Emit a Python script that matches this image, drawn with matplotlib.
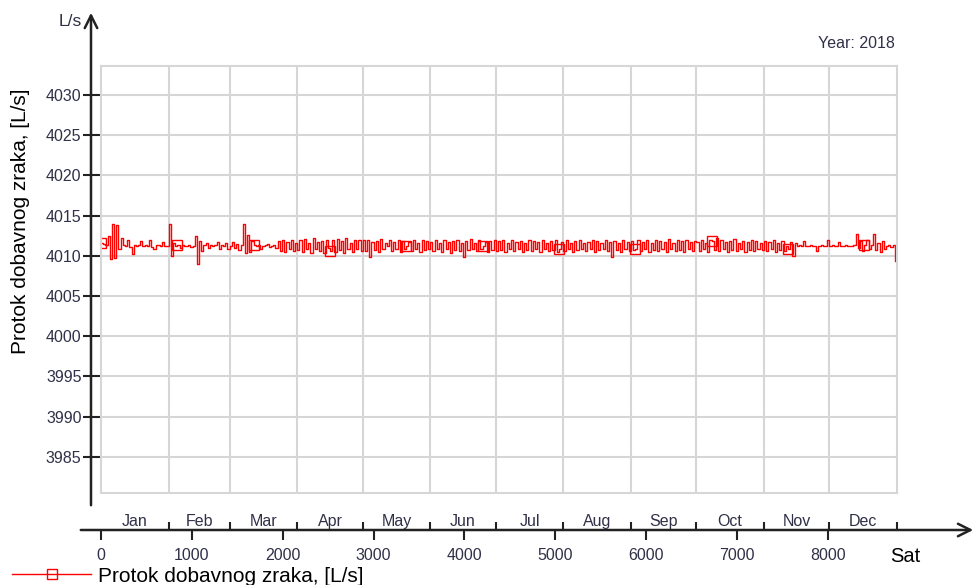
import numpy as np
import matplotlib as mpl
from matplotlib import pyplot as plt
from matplotlib.transforms import blended_transform_factory

plt.rcParams['font.family'] = ['Liberation Sans', 'DejaVu Sans']

# daily values of the supply air flow [L/s]
jan = [4011.6, 4011.5, 4011.3, 4012.4, 4009.6, 4014.0, 4009.7, 4013.8, 4010.9, 4012.2, 4011.3,
       4011.2, 4012.0, 4011.1, 4010.2, 4011.3, 4011.2, 4011.3, 4011.8, 4011.2, 4011.3, 4011.2,
       4011.9, 4011.1, 4010.9, 4011.4, 4011.3, 4011.2, 4011.7, 4011.2, 4011.2]
feb = [4013.9, 4010.0, 4011.6, 4011.2, 4011.3, 4011.0, 4011.4, 4011.2, 4011.2, 4011.3, 4011.1,
       4011.2, 4012.5, 4009.0, 4011.8, 4010.6, 4011.3, 4011.6, 4011.0, 4011.4, 4011.2, 4011.3,
       4011.7, 4010.9, 4011.4, 4011.2, 4011.6, 4010.8]
mar = [4011.2, 4011.7, 4011.0, 4011.5, 4010.7, 4011.3, 4014.0, 4010.3, 4012.6, 4010.5, 4011.8,
       4011.4, 4011.2, 4011.3, 4010.9, 4011.2, 4011.3, 4011.5, 4011.1, 4011.2, 4011.4, 4011.0,
       4011.8, 4010.6, 4011.9, 4010.5, 4011.7, 4010.8, 4012.0, 4010.6, 4011.6]
apr = [4010.7, 4011.9, 4010.5, 4012.1, 4010.8, 4011.6, 4010.4, 4012.2, 4010.9, 4011.7, 4010.6,
       4011.8, 4010.3, 4012.0, 4011.0, 4010.6, 4011.9, 4010.5, 4012.1, 4010.7, 4011.8, 4010.4,
       4012.2, 4010.9, 4011.6, 4010.5, 4011.9, 4010.8, 4012.0, 4010.6]
may = [4011.9, 4010.6, 4012.0, 4009.8, 4011.7, 4010.7, 4011.8, 4010.5, 4012.1, 4010.9, 4011.6,
       4011.2, 4011.9, 4010.6, 4011.7, 4010.8, 4012.0, 4010.5, 4011.8, 4010.9, 4011.2, 4011.7,
       4010.6, 4011.9, 4010.8, 4011.6, 4010.5, 4012.0, 4010.7, 4011.8, 4010.9]
jun = [4011.7, 4010.6, 4011.9, 4010.8, 4011.6, 4010.5, 4012.0, 4010.9, 4011.7, 4010.4, 4011.8,
       4010.7, 4011.9, 4010.6, 4011.6, 4009.9, 4011.8, 4010.7, 4012.1, 4010.8, 4011.6, 4010.6,
       4011.9, 4010.9, 4011.2, 4011.7, 4010.5, 4011.8, 4010.7, 4011.9]
jul = [4010.6, 4011.8, 4010.7, 4011.9, 4010.5, 4011.6, 4010.8, 4012.0, 4010.6, 4011.7, 4010.9,
       4011.8, 4010.5, 4011.6, 4010.7, 4011.9, 4010.6, 4011.8, 4010.8, 4011.7, 4010.5, 4012.0,
       4010.9, 4011.6, 4010.6, 4011.8, 4010.7, 4011.9, 4010.5, 4010.8, 4011.7]
aug = [4010.6, 4011.9, 4010.8, 4011.6, 4010.5, 4011.8, 4010.7, 4011.9, 4010.9, 4011.6, 4010.6,
       4011.7, 4010.8, 4012.0, 4010.5, 4011.8, 4010.7, 4011.6, 4010.9, 4011.9, 4010.6, 4011.7,
       4009.8, 4011.8, 4010.7, 4011.6, 4010.5, 4011.9, 4010.8, 4011.7, 4010.6]
sep = [4011.8, 4010.7, 4010.9, 4011.9, 4010.6, 4011.7, 4010.8, 4012.0, 4010.5, 4011.6, 4010.7,
       4011.9, 4010.6, 4011.8, 4010.9, 4011.7, 4010.5, 4012.1, 4010.8, 4011.6, 4010.6, 4011.9,
       4010.7, 4011.8, 4010.5, 4012.0, 4010.9, 4011.7, 4010.6, 4011.8]
oct_ = [4011.7, 4010.6, 4011.9, 4010.8, 4011.6, 4010.5, 4012.0, 4011.8, 4010.7, 4012.2, 4010.6,
        4011.9, 4010.8, 4011.7, 4010.5, 4011.8, 4010.7, 4012.1, 4010.6, 4011.6, 4010.9, 4011.8,
        4010.5, 4011.7, 4010.7, 4011.9, 4010.6, 4011.8, 4010.8, 4011.6, 4010.7]
nov = [4011.8, 4010.6, 4011.7, 4010.8, 4011.9, 4010.5, 4011.6, 4010.7, 4011.8, 4010.6, 4011.2,
       4010.9, 4011.7, 4010.0, 4011.6, 4011.2, 4011.3, 4011.2, 4011.8, 4011.2, 4011.2, 4011.3,
       4011.2, 4011.2, 4010.6, 4011.2, 4011.3, 4011.2, 4011.2, 4011.9]
dec = [4011.2, 4011.3, 4011.2, 4011.2, 4011.7, 4011.2, 4011.2, 4011.3, 4011.2, 4011.2, 4011.2,
       4011.3, 4012.7, 4011.0, 4011.8, 4010.6, 4011.3, 4012.0, 4010.8, 4011.4, 4012.7, 4010.7,
       4011.6, 4010.5, 4011.8, 4010.9, 4011.2, 4011.4, 4011.1, 4011.3, 4009.3]

flow = jan + feb + mar + apr + may + jun + jul + aug + sep + oct_ + nov + dec
hours = np.arange(len(flow)) * 24

month_names = ['Jan', 'Feb', 'Mar', 'Apr', 'May', 'Jun', 'Jul', 'Aug', 'Sep', 'Oct', 'Nov', 'Dec']
month_end = [744, 1416, 2160, 2880, 3624, 4344, 5088, 5832, 6552, 7296, 8016, 8760]
yticks = [3985, 3990, 3995, 4000, 4005, 4010, 4015, 4020, 4025, 4030]
xticks = [0, 1000, 2000, 3000, 4000, 5000, 6000, 7000, 8000]

W, H = 976, 585
txt = '#303048'
grid = '#d6d6d6'
fig = plt.figure(figsize=(W / 100, H / 100), dpi=100)

# main plot box
ax = fig.add_axes([101 / W, (H - 493) / H, 796 / W, (493 - 66) / H])
ax.set_xlim(0, 8760)
ax.set_ylim(3980.5, 4033.6)
for s in ax.spines.values():
    s.set_color(grid)
    s.set_linewidth(1.5)
month_start = [0] + month_end[:-1]
for m in month_start[1:]:
    ax.axvline(m, color=grid, lw=1.5, zorder=0)
for v in yticks:
    ax.axhline(v, color=grid, lw=1.5, zorder=0)
ax.set_xticks([])
ax.set_yticks(yticks)
ax.tick_params(axis='y', direction='out', length=13, width=1.5, color='#222222',
               labelsize=11.5, labelcolor=txt, pad=1)

line, = ax.plot(hours, flow, color='red', lw=1, drawstyle='steps-post', marker='s', markevery=35,
                markersize=7, markerfacecolor='none', markeredgecolor='red', markeredgewidth=1,
                label='Protok dobavnog zraka, [L/s]')

# vertical axis line with arrow
ax.annotate('', xy=(91 / W, 1 - 10 / H), xytext=(91 / W, 1 - 508 / H), xycoords='figure fraction',
            arrowprops=dict(arrowstyle='->,head_length=0.9,head_width=0.45', color='#222222', lw=1.8))
fig.text(82 / W, 1 - 22 / H, 'L/s', ha='right', va='center', fontsize=12.5, color=txt)
fig.text(21 / W, 1 - 221 / H, 'Protok dobavnog zraka, [L/s]', rotation=90, ha='center', va='center',
         fontsize=15, color='black')
fig.text(895 / W, 1 - 43 / H, 'Year: 2018', ha='right', va='center', fontsize=11.5, color=txt)

# horizontal time axis
ax2 = fig.add_axes([101 / W, (H - 530) / H, 796 / W, 0.0001])
ax2.set_xlim(0, 8760)
ax2.set_ylim(0, 1)
for s in ax2.spines.values():
    s.set_visible(False)
ax2.set_yticks([])
ax2.set_xticks(xticks)
ax2.tick_params(axis='x', bottom=True, direction='out', length=7, width=1.5, color='#222222',
                labelsize=11.5, labelcolor=txt, pad=6)
ax2.set_xticks([0] + month_end, minor=True)
ax2.tick_params(axis='x', which='minor', bottom=False, top=True, direction='out', length=6,
                width=1.5, color='#222222')
ax.annotate('', xy=(976 / W, (H - 530) / H), xytext=(78 / W, (H - 530) / H), xycoords='figure fraction',
            arrowprops=dict(arrowstyle='->,head_length=0.9,head_width=0.45', color='#222222', lw=1.8))
trans = blended_transform_factory(ax2.transData, fig.transFigure)
for name, a, b in zip(month_names, month_start, month_end):
    ax2.text((a + b) / 2, 1 - 526 / H, name, transform=trans, ha='center', va='baseline',
             fontsize=11.5, color=txt)
fig.text(905 / W, 1 - 557 / H, 'Sat', ha='center', va='center', fontsize=14.5, color='black')

fig.legend(handles=[line], loc='lower left', bbox_to_anchor=(4 / W, -9 / H), frameon=False,
           fontsize=15, handlelength=3.8, handletextpad=0.3, borderaxespad=0, numpoints=1)

fig.savefig('out.png', dpi=100)
